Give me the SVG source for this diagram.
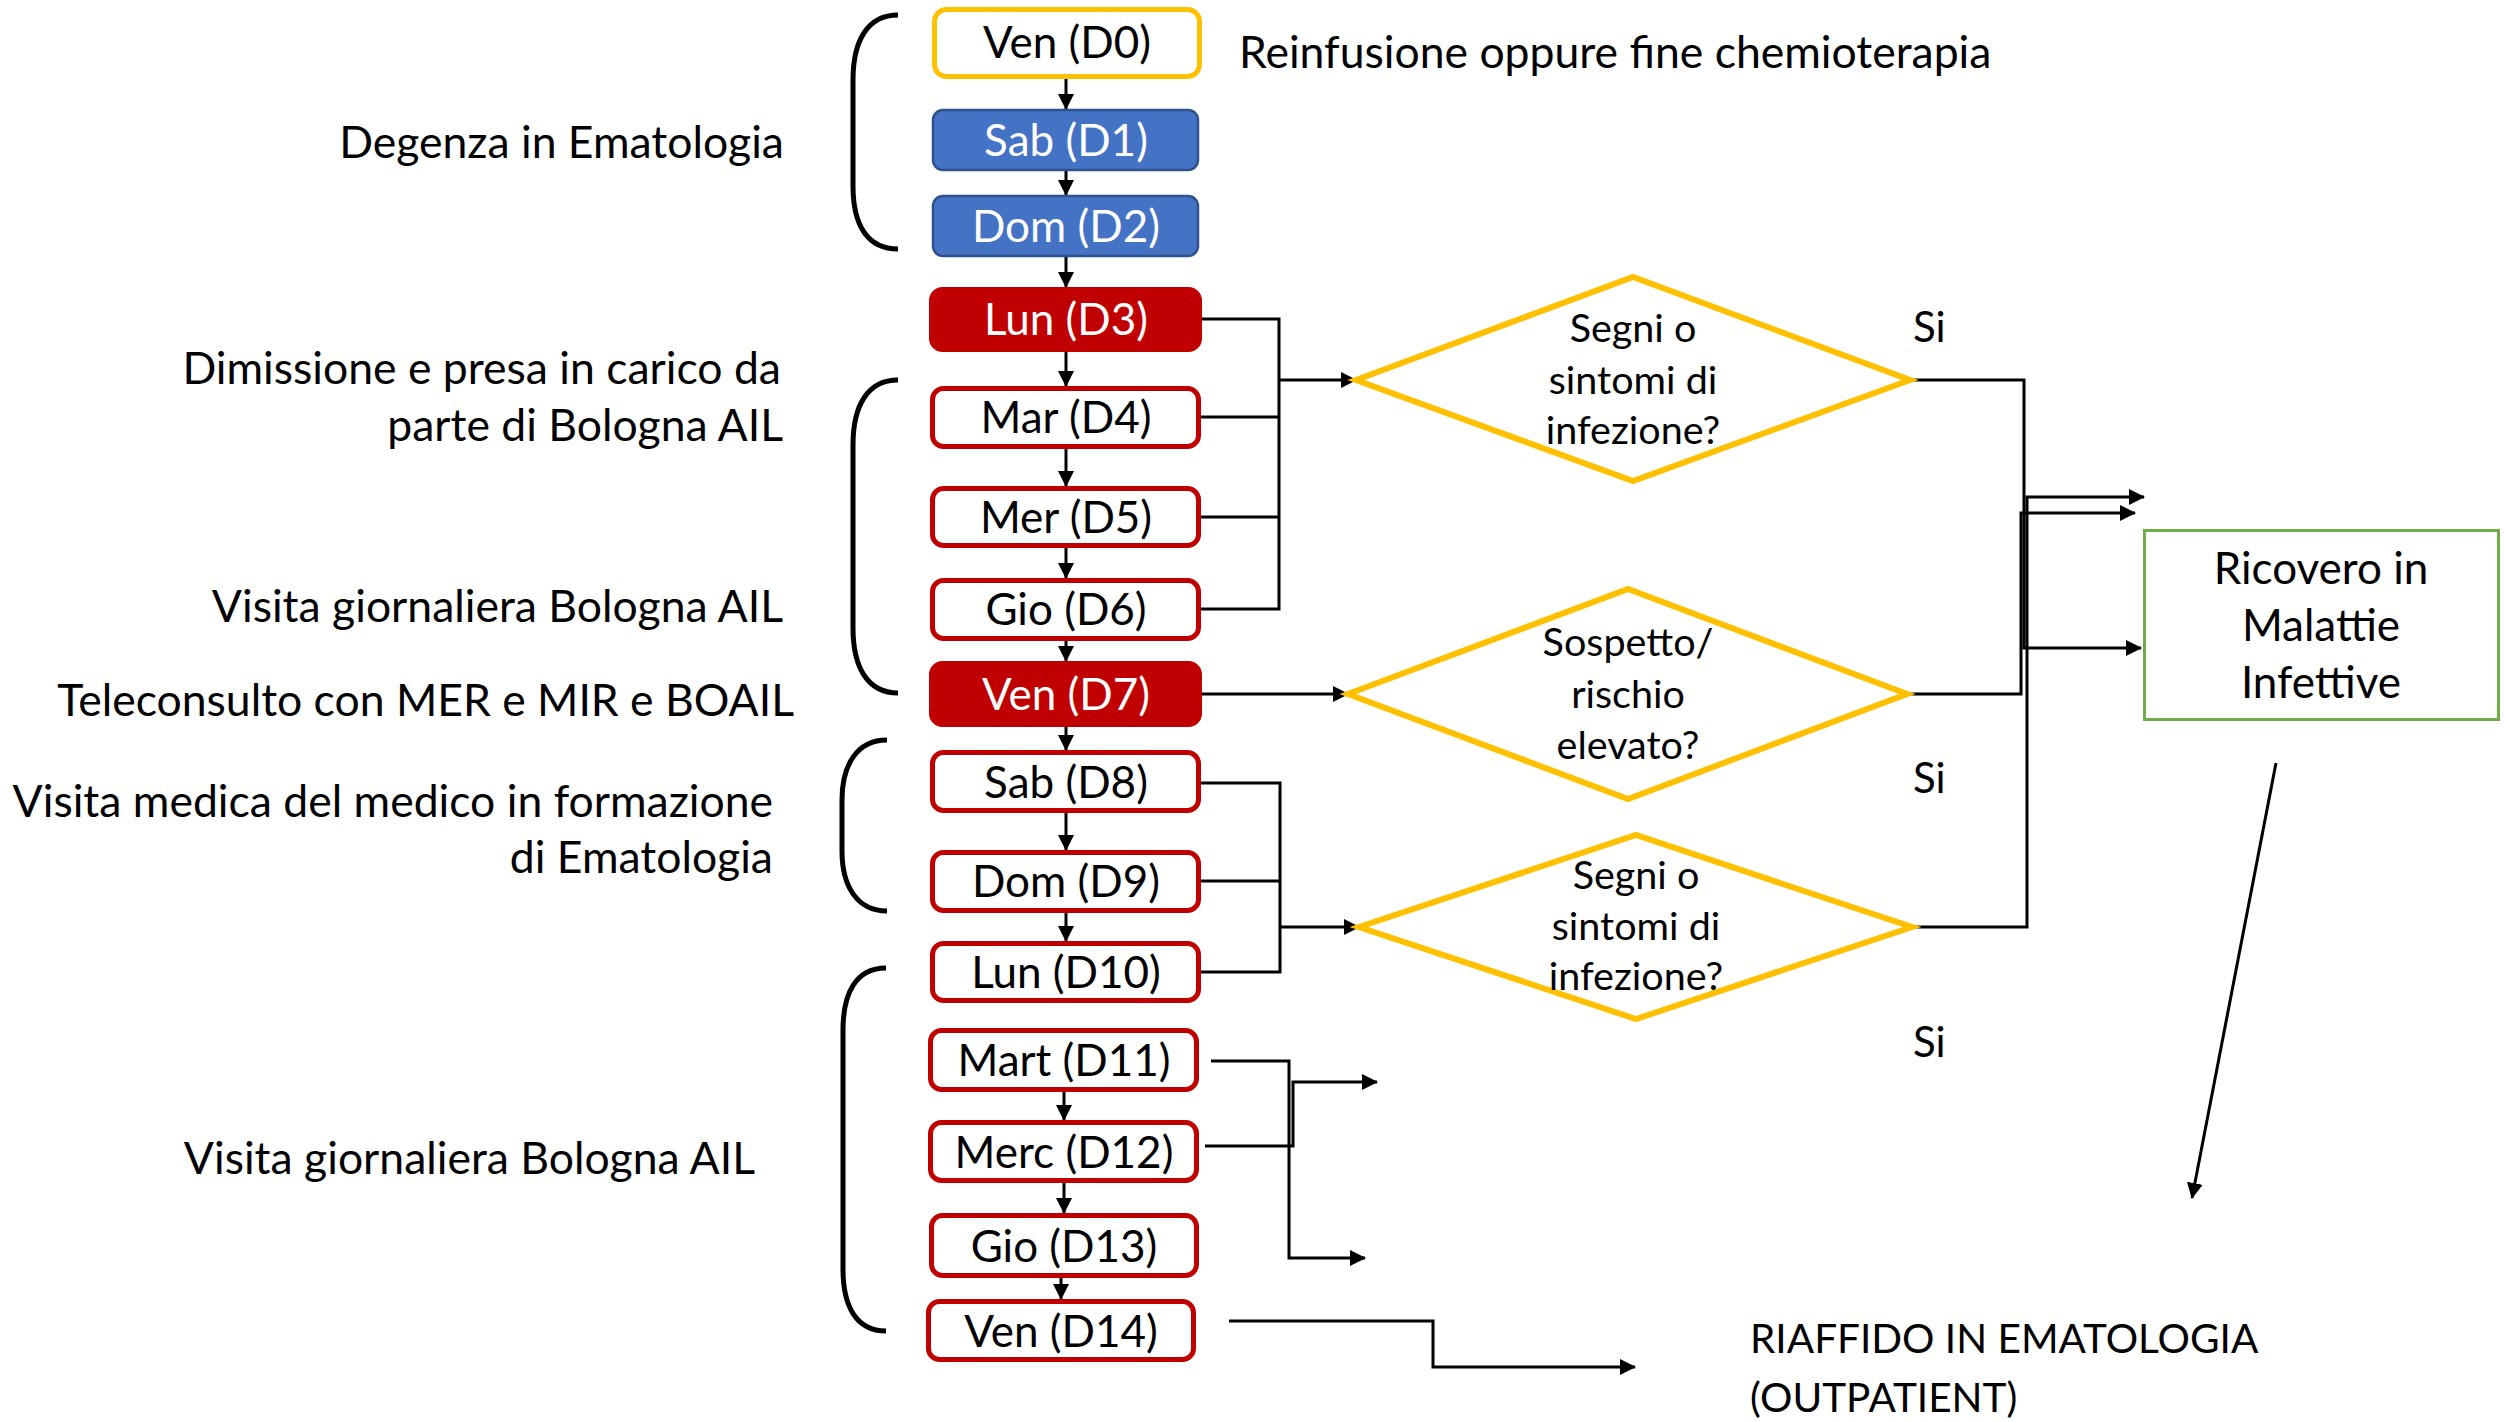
<svg xmlns="http://www.w3.org/2000/svg" width="2504" height="1422" viewBox="0 0 2504 1422">
<style>
text{font-family:Lato,"Open Sans","DejaVu Sans",sans-serif;fill:#000}
.bt{font-size:44px;text-anchor:middle}
.wt{fill:#fff}
.lt{font-size:44.5px;text-anchor:end}
.st{font-size:44.5px}
.si{font-size:42px}
.rt{font-size:40.5px}
.dt{font-size:39.5px;text-anchor:middle}
.ro{fill:#fff;stroke:#C00000;stroke-width:5}
.rf{fill:#C00000;stroke:#C00000;stroke-width:3}
.bf{fill:#4472C4;stroke:#2F528F;stroke-width:2.5}
.yo{fill:#fff;stroke:#FFC000;stroke-width:5}
.dia{fill:none;stroke:#FFC000;stroke-width:6}
.br{fill:none;stroke:#000;stroke-width:5}
.c{fill:none;stroke:#000;stroke-width:3}
.ca{fill:none;stroke:#000;stroke-width:3;marker-end:url(#ah)}
</style>
<defs>
<marker id="ah" markerUnits="userSpaceOnUse" markerWidth="16" markerHeight="16" refX="15" refY="8" orient="auto">
<path d="M0,0 L16,8 L0,16 Z" fill="#000"/>
</marker>
</defs>
<rect width="2504" height="1422" fill="#fff"/>

<!-- brackets -->
<g id="brackets">
<path class="br" d="M898,15 C868,15 853,40 853,80 L853,186 C853,226 868,249 898,249"/>
<path class="br" d="M898,380 C868,380 853,405 853,445 L853,628 C853,668 868,693 898,693"/>
<path class="br" d="M887,740 C857,740 842,765 842,800 L842,851 C842,886 857,911 887,911"/>
<path class="br" d="M886,968 C856,968 843,993 843,1030 L843,1269 C843,1306 856,1331 886,1331"/>
</g>

<!-- side labels -->
<g id="labels">
<text class="st" x="1239" y="68">Reinfusione oppure fine chemioterapia</text>
<text class="lt" x="784" y="158">Degenza in Ematologia</text>
<text class="lt" x="781" y="384">Dimissione e presa in carico da</text>
<text class="lt" x="783" y="441">parte di Bologna AIL</text>
<text class="lt" x="783" y="622">Visita giornaliera Bologna AIL</text>
<text class="lt" x="794" y="716">Teleconsulto con MER e MIR e BOAIL</text>
<text class="lt" x="773" y="817">Visita medica del medico in formazione</text>
<text class="lt" x="773" y="873">di Ematologia</text>
<text class="lt" x="755" y="1174">Visita giornaliera Bologna AIL</text>
<text class="si" x="1913" y="342">Si</text>
<text class="si" x="1913" y="793">Si</text>
<text class="si" x="1913" y="1057">Si</text>
<text class="rt" x="1750" y="1353">RIAFFIDO IN EMATOLOGIA</text>
<text class="rt" x="1750" y="1412">(OUTPATIENT)</text>
</g>

<!-- connectors -->
<g id="connectors">
<path class="ca" d="M1066,68 L1066,109"/>
<path class="ca" d="M1066,171 L1066,195"/>
<path class="ca" d="M1066,257 L1066,287"/>
<path class="ca" d="M1066,352 L1066,386"/>
<path class="ca" d="M1066,449 L1066,486"/>
<path class="ca" d="M1066,548 L1066,578"/>
<path class="ca" d="M1066,641 L1066,661"/>
<path class="ca" d="M1066,727 L1066,750"/>
<path class="ca" d="M1066,813 L1066,850"/>
<path class="ca" d="M1066,913 L1066,941"/>
<path class="ca" d="M1064,1092 L1064,1120"/>
<path class="ca" d="M1064,1183 L1064,1213"/>
<path class="ca" d="M1061,1272 L1061,1299"/>

<path class="c" d="M1202,319 L1279,319 L1279,609 L1201,609 M1201,417 L1279,417 M1201,517 L1279,517"/>
<path class="ca" d="M1279,380 L1356,380"/>
<path class="ca" d="M1202,694 L1348,694"/>
<path class="c" d="M1201,783 L1280,783 L1280,972 L1201,972 M1201,881 L1280,881"/>
<path class="ca" d="M1280,927 L1359,927"/>

<path class="ca" d="M1910,380 L2024,380 L2024,648 L2141,648"/>
<path class="ca" d="M1907,694 L2021,694 L2021,513 L2135,513"/>
<path class="ca" d="M1912,927 L2027,927 L2027,497 L2144,497"/>

<path class="ca" d="M1211,1061 L1289,1061 L1289,1258 L1365,1258"/>
<path class="ca" d="M1205,1146 L1293,1146 L1293,1082 L1377,1082"/>
<path class="ca" d="M1229,1321 L1433,1321 L1433,1367 L1635,1367"/>
<path class="ca" d="M2276,763 L2192,1198"/>
</g>

<!-- day nodes -->
<g id="d0"><rect class="yo" x="934.5" y="9.5" width="265" height="67" rx="12"/><text class="bt" x="1067" y="58">Ven (D0)</text></g>
<g id="d1"><rect class="bf" x="933" y="110" width="265" height="60" rx="10"/><text class="bt wt" x="1066" y="156">Sab (D1)</text></g>
<g id="d2"><rect class="bf" x="933" y="196" width="265" height="60" rx="10"/><text class="bt wt" x="1066" y="242">Dom (D2)</text></g>
<g id="d3"><rect class="rf" x="930.5" y="288.5" width="270" height="62" rx="12"/><text class="bt wt" x="1066" y="335">Lun (D3)</text></g>
<g id="d4"><rect class="ro" x="932.5" y="388.5" width="266" height="58" rx="11"/><text class="bt" x="1066" y="433">Mar (D4)</text></g>
<g id="d5"><rect class="ro" x="932.5" y="488.5" width="266" height="57" rx="11"/><text class="bt" x="1066" y="533">Mer (D5)</text></g>
<g id="d6"><rect class="ro" x="932.5" y="580.5" width="266" height="58" rx="11"/><text class="bt" x="1066" y="625">Gio (D6)</text></g>
<g id="d7"><rect class="rf" x="930.5" y="662.5" width="270" height="63" rx="12"/><text class="bt wt" x="1066" y="710">Ven (D7)</text></g>
<g id="d8"><rect class="ro" x="932.5" y="752.5" width="266" height="58" rx="11"/><text class="bt" x="1066" y="798">Sab (D8)</text></g>
<g id="d9"><rect class="ro" x="932.5" y="852.5" width="266" height="58" rx="11"/><text class="bt" x="1066" y="897">Dom (D9)</text></g>
<g id="d10"><rect class="ro" x="932.5" y="943.5" width="266" height="57" rx="11"/><text class="bt" x="1066" y="988">Lun (D10)</text></g>
<g id="d11"><rect class="ro" x="930.5" y="1030.5" width="266" height="59" rx="11"/><text class="bt" x="1064" y="1076">Mart (D11)</text></g>
<g id="d12"><rect class="ro" x="930.5" y="1122.5" width="266" height="58" rx="11"/><text class="bt" x="1064" y="1168">Merc (D12)</text></g>
<g id="d13"><rect class="ro" x="931.5" y="1215.5" width="265" height="60" rx="11"/><text class="bt" x="1064" y="1262">Gio (D13)</text></g>
<g id="d14"><rect class="ro" x="928.5" y="1301.5" width="265" height="58" rx="11"/><text class="bt" x="1061" y="1347">Ven (D14)</text></g>

<!-- decisions -->
<g id="q1"><path class="dia" d="M1356,380 L1633,277 L1910,380 L1633,481 Z"/>
<text class="dt" x="1633" y="342">Segni o</text><text class="dt" x="1633" y="394">sintomi di</text><text class="dt" x="1633" y="444">infezione?</text></g>
<g id="q2"><path class="dia" d="M1348,694 L1628,589 L1907,694 L1628,799 Z"/>
<text class="dt" x="1628" y="656">Sospetto/</text><text class="dt" x="1628" y="708">rischio</text><text class="dt" x="1628" y="759">elevato?</text></g>
<g id="q3"><path class="dia" d="M1359,927 L1636,835 L1912,927 L1636,1019 Z"/>
<text class="dt" x="1636" y="889">Segni o</text><text class="dt" x="1636" y="940">sintomi di</text><text class="dt" x="1636" y="990">infezione?</text></g>

<!-- outcome -->
<g id="ricovero"><rect x="2144.5" y="530.5" width="354" height="189" fill="#fff" stroke="#70AD47" stroke-width="3"/>
<text class="bt" x="2321" y="584">Ricovero in</text><text class="bt" x="2321" y="641">Malattie</text><text class="bt" x="2321" y="698">Infettive</text></g>
</svg>
